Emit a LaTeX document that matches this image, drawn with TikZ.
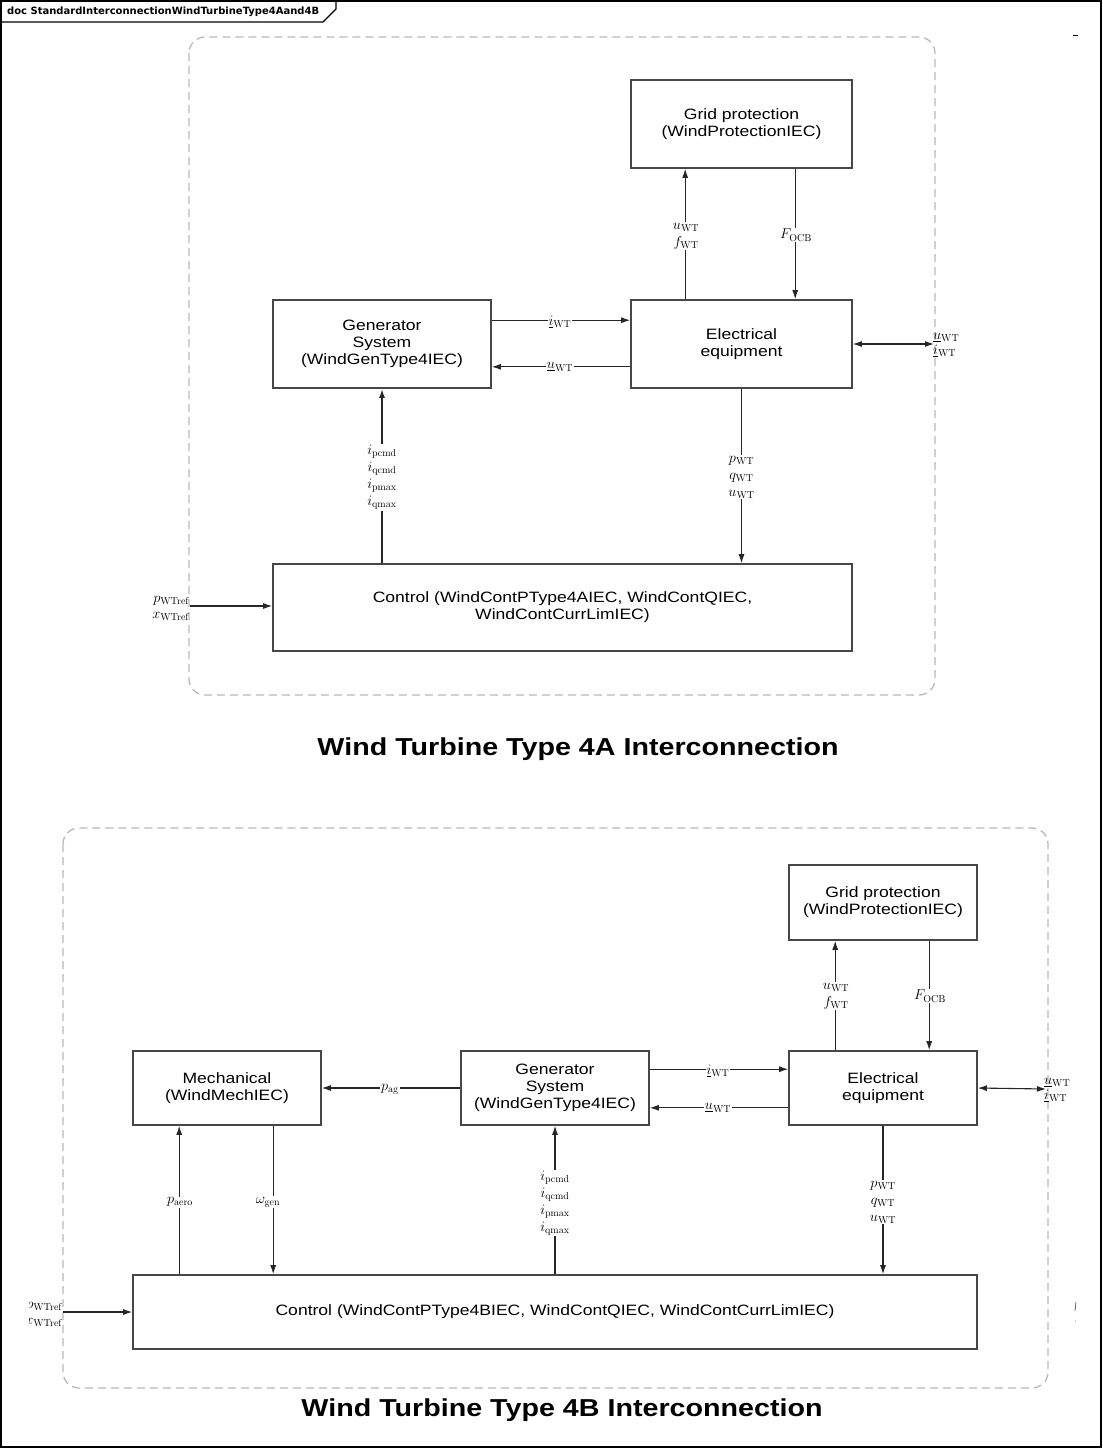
\documentclass[tikz,border=0pt]{standalone}
\usepackage{graphicx}
\usepackage[no-math]{fontspec}
\setmainfont{Liberation Sans}[FakeStretch=1.17]
\newfontfamily\hdrfont{DejaVu Sans}
\usetikzlibrary{arrows.meta}
\tikzset{
 blk/.style={draw=black!72, line width=1.6pt, fill=white, align=center, inner sep=2pt, font=\fontsize{15}{17}\selectfont},
 conn/.style={draw=black!85, line width=1.1pt},
 arr/.style={conn, -{Latex[length=9pt,width=6pt]}},
 dbl/.style={conn, {Latex[length=9pt,width=6pt]}-{Latex[length=9pt,width=6pt]}},
 lbl/.style={fill=white, inner sep=1pt, align=center, font=\fontsize{14}{17}\selectfont},
 lbln/.style={inner sep=1pt, align=left, font=\fontsize{14}{16}\selectfont},
 grpframe/.style={draw=gray!55, line width=1.3pt, dash pattern=on 8pt off 5pt, rounded corners=16pt},
 ttl/.style={font=\fontsize{24.5}{28}\selectfont\bfseries, inner sep=0pt}
}
\begin{document}
\begin{tikzpicture}[x=1pt,y=-1pt]
\useasboundingbox (0,0) rectangle (1103,1449);
\fill[white] (0,0) rectangle (1103,1449);
% outer frame and header tab
\draw[line width=1.4pt] (1,1) rectangle (1101,1447);
\draw[line width=1.2pt] (1,22) -- (323,22) -- (336,9) -- (336,1);
\node[anchor=west, inner sep=0pt, font=\hdrfont\bfseries\fontsize{10}{12}\selectfont] (hdr) at (7,11.5) {doc StandardInterconnectionWindTurbineType4Aand4B};
\draw[line width=0.8pt] (1073,35) -- (1078,35);

% ================= TOP: Type 4A =================
\draw[grpframe] (189,37) rectangle (935,695);
\node[blk, minimum width=221pt, minimum height=88pt] (gp) at (741.5,124) {Grid protection\\(WindProtectionIEC)};
\node[blk, minimum width=218pt, minimum height=88pt] (gen) at (382,344) {Generator\\System\\(WindGenType4IEC)};
\node[blk, minimum width=221pt, minimum height=88pt] (elec) at (741.5,344) {Electrical\\equipment};
\node[blk, minimum width=579pt, minimum height=87pt] (ctrl) at (562.5,607.5) {Control (WindContPType4AIEC, WindContQIEC,\\WindContCurrLimIEC)};

\draw[arr] ([xshift=55pt]elec.north west) -- ([xshift=55pt]gp.south west);
\node[lbl] (uf) at (686,236) {$u_{\mathrm{WT}}$\\$f_{\mathrm{WT}}$};
\draw[arr] ([xshift=165pt]gp.south west) -- ([xshift=165pt]elec.north west);
\node[lbl] (focb) at (796,235) {$F_{\mathrm{OCB}}$};
\draw[arr] ([yshift=-21pt]gen.north east) -- ([yshift=-21pt]elec.north west);
\node[lbl] (iwt) at (560,322) {$\underline{i}_{\mathrm{WT}}$};
\draw[arr] ([yshift=22pt]elec.south west) -- ([yshift=22pt]gen.south east);
\node[lbl] (uwt) at (560,367) {$\underline{u}_{\mathrm{WT}}$};
\coordinate (rt) at (934,344);
\draw[dbl] (elec.east) -- (rt);
\node[lbln, anchor=west] (rlab) at (932,345) {$\underline{u}_{\mathrm{WT}}$\\[-1pt]$\underline{i}_{\mathrm{WT}}$};
\draw[arr] (elec.south) -- (elec.south |- ctrl.north);
\node[lbl] (pqu) at (741.5,477) {$p_{\mathrm{WT}}$\\$q_{\mathrm{WT}}$\\$u_{\mathrm{WT}}$};
\draw[arr, line width=2pt] (gen.south |- ctrl.north) -- (gen.south);
\node[lbl] (icmd) at (382,477.5) {$i_{\mathrm{pcmd}}$\\$i_{\mathrm{qcmd}}$\\$i_{\mathrm{pmax}}$\\$i_{\mathrm{qmax}}$};
\coordinate (in1) at (190,606);
\draw[arr] (in1) -- (in1 -| ctrl.west);
\node[lbln, anchor=east, align=right] (inlab1) at (191,608) {$p_{\mathrm{WTref}}$\\$x_{\mathrm{WTref}}$};

\node[ttl] (t4a) at (578,749) {Wind Turbine Type 4A Interconnection};

% ================= BOTTOM: Type 4B =================
\draw[grpframe] (63,828) rectangle (1048,1388);
\node[blk, minimum width=188pt, minimum height=75pt] (gp2) at (883,902.5) {Grid protection\\(WindProtectionIEC)};
\node[blk, minimum width=188pt, minimum height=74pt] (mech) at (227,1088) {Mechanical\\(WindMechIEC)};
\node[blk, minimum width=188pt, minimum height=74pt] (gen2) at (555,1088) {Generator\\System\\(WindGenType4IEC)};
\node[blk, minimum width=188pt, minimum height=74pt] (elec2) at (883,1088) {Electrical\\equipment};
\node[blk, minimum width=844pt, minimum height=74pt] (ctrl2) at (555,1312) {Control (WindContPType4BIEC, WindContQIEC, WindContCurrLimIEC)};

\draw[arr] ([xshift=47pt]elec2.north west) -- ([xshift=47pt]gp2.south west);
\node[lbl] (uf2) at (836,996) {$u_{\mathrm{WT}}$\\$f_{\mathrm{WT}}$};
\draw[arr] ([xshift=141pt]gp2.south west) -- ([xshift=141pt]elec2.north west);
\node[lbl] (focb2) at (930,996) {$F_{\mathrm{OCB}}$};
\draw[arr] ([yshift=-19pt]gen2.north east) -- ([yshift=-19pt]elec2.north west);
\node[lbl] (iwt2) at (718,1071) {$\underline{i}_{\mathrm{WT}}$};
\draw[arr] ([yshift=18pt]elec2.south west) -- ([yshift=18pt]gen2.south east);
\node[lbl] (uwt2) at (718,1108) {$\underline{u}_{\mathrm{WT}}$};
\coordinate (rt2) at (1046,1089);
\draw[dbl] (elec2.east) -- (rt2);
\node[lbln, anchor=west] (rlab2) at (1043,1090) {$\underline{u}_{\mathrm{WT}}$\\[-1pt]$\underline{i}_{\mathrm{WT}}$};
\draw[arr] (elec2.south) -- (elec2.south |- ctrl2.north);
\node[lbl] (pqu2) at (883,1202) {$p_{\mathrm{WT}}$\\$q_{\mathrm{WT}}$\\$u_{\mathrm{WT}}$};
\draw[arr] (gen2.south |- ctrl2.north) -- (gen2.south);
\node[lbl] (icmd2) at (555,1203) {$i_{\mathrm{pcmd}}$\\$i_{\mathrm{qcmd}}$\\$i_{\mathrm{pmax}}$\\$i_{\mathrm{qmax}}$};
\draw[arr] (gen2.west) -- (mech.east);
\node[lbl] (pag) at (390,1089) {$p_{\mathrm{ag}}$};
\coordinate (pa) at ([xshift=47pt]mech.south west);
\coordinate (og) at ([xshift=141pt]mech.south west);
\draw[arr] (pa |- ctrl2.north) -- (pa);
\node[lbl] (paero) at (180,1202) {$p_{\mathrm{aero}}$};
\draw[arr] (og) -- (og |- ctrl2.north);
\node[lbl] (ogen) at (268,1202) {$\omega_{\mathrm{gen}}$};
\coordinate (in2) at (63,1312);
\draw[arr] (in2) -- (in2 -| ctrl2.west);
\begin{scope}
\clip (29,1290) rectangle (70,1335);
\node[lbln, anchor=east, align=right] (inlab2) at (64,1314) {$p_{\mathrm{WTref}}$\\$x_{\mathrm{WTref}}$};
\end{scope}
\draw[black!60, line width=0.8pt] (1076,1302) -- (1075,1311);
\fill[black!40] (1075.5,1321) circle (0.6pt);

\node[ttl] (t4b) at (562,1410) {Wind Turbine Type 4B Interconnection};
\end{tikzpicture}
\end{document}
